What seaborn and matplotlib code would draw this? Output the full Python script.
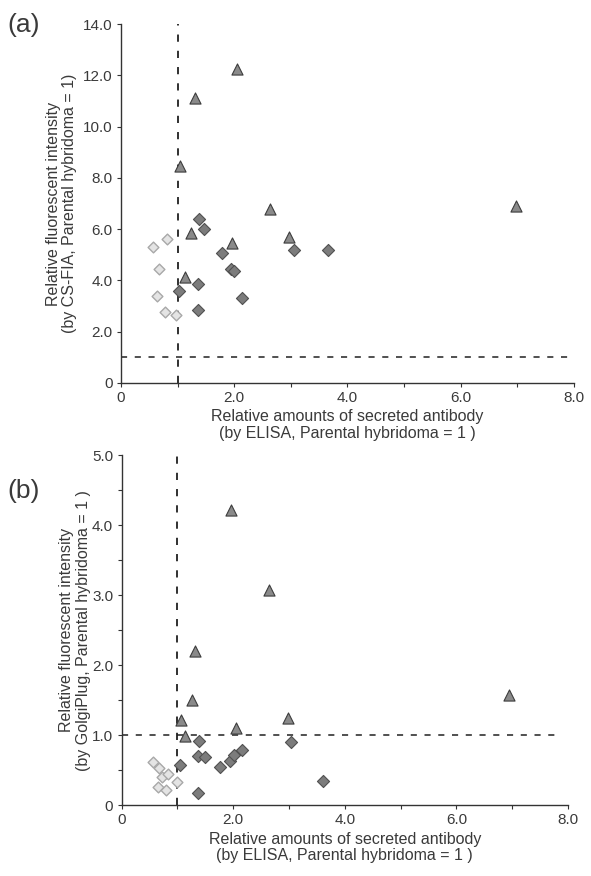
import numpy as np
import pandas as pd
import seaborn as sns
import matplotlib.pyplot as plt
from matplotlib.ticker import MultipleLocator

# panel (a): CS-FIA vs ELISA
a_tri_x = [2.05, 1.31, 1.04, 2.63, 1.24, 1.96, 2.97, 1.13, 6.97]
a_tri_y = [12.25, 11.1, 8.45, 6.8, 5.85, 5.45, 5.7, 4.15, 6.9]
a_dia_x = [1.37, 1.47, 1.78, 1.94, 2.00, 3.06, 3.65, 1.36, 1.02, 2.13, 1.36]
a_dia_y = [6.4, 6.0, 5.05, 4.45, 4.35, 5.2, 5.2, 3.85, 3.6, 3.3, 2.85]
a_lt_x = [0.57, 0.82, 0.67, 0.63, 0.78, 0.97]
a_lt_y = [5.3, 5.6, 4.45, 3.4, 2.75, 2.65]

# panel (b): GolgiPlug vs ELISA
b_tri_x = [1.97, 2.64, 1.32, 1.26, 1.06, 1.14, 2.06, 2.98, 6.94]
b_tri_y = [4.22, 3.07, 2.2, 1.5, 1.22, 0.99, 1.1, 1.24, 1.57]
b_dia_x = [1.39, 1.37, 1.49, 1.04, 1.37, 1.77, 1.95, 2.01, 2.15, 3.03, 3.61]
b_dia_y = [0.92, 0.7, 0.68, 0.57, 0.17, 0.55, 0.63, 0.72, 0.78, 0.9, 0.35]
b_lt_x = [0.57, 0.67, 0.72, 0.84, 0.65, 0.79, 1.0]
b_lt_y = [0.61, 0.53, 0.40, 0.44, 0.26, 0.21, 0.33]

xlab = 'Relative amounts of secreted antibody\n(by ELISA, Parental hybridoma = 1 )'
ylab_a = 'Relative fluorescent intensity\n(by CS-FIA, Parental hybridoma = 1)'
ylab_b = 'Relative fluorescent intensity\n(by GolgiPlug, Parental hybridoma = 1 )'

sns.set_style('ticks')
plt.rcParams['font.family'] = ['Liberation Sans', 'DejaVu Sans']
txt = '#3a3a3a'

fig = plt.figure(figsize=(5.91, 8.76), dpi=100)
ax_a = fig.add_axes([0.2047, 0.5628, 0.7665, 0.4098])
ax_b = fig.add_axes([0.2056, 0.0810, 0.7555, 0.3995])


def draw(ax, tx, ty, dx, dy, lx, ly):
    sns.scatterplot(x=lx, y=ly, ax=ax, marker='D', s=30, color='#e4e4e4',
                    edgecolor='#a8a8a8', linewidth=1.0, zorder=3)
    sns.scatterplot(x=dx, y=dy, ax=ax, marker='D', s=38, color='#7c7c7c',
                    edgecolor='#505050', linewidth=0.8, zorder=3)
    sns.scatterplot(x=tx, y=ty, ax=ax, marker='^', s=64, color='#8a8a8a',
                    edgecolor='#3c3c3c', linewidth=0.8, zorder=3)


draw(ax_a, a_tri_x, a_tri_y, a_dia_x, a_dia_y, a_lt_x, a_lt_y)
draw(ax_b, b_tri_x, b_tri_y, b_dia_x, b_dia_y, b_lt_x, b_lt_y)

for ax, ytop, ystep, yminor, ylab, ypad in [(ax_a, 14.0, 2.0, 2.0, ylab_a, 4),
                                            (ax_b, 5.0, 1.0, 0.5, ylab_b, 1)]:
    ax.set_xlim(0, 8.0)
    ax.set_ylim(0, ytop)
    ax.plot([1.0, 1.0], [0, ytop], ls=(0, (4, 5)), color='#202020', lw=1.3, zorder=2)
    ax.plot([0, 7.9], [1.0, 1.0], ls=(0, (4, 5)), color='#202020', lw=1.1, zorder=2)
    ax.xaxis.set_major_locator(MultipleLocator(2.0))
    ax.xaxis.set_minor_locator(MultipleLocator(1.0))
    ax.yaxis.set_major_locator(MultipleLocator(ystep))
    ax.yaxis.set_minor_locator(MultipleLocator(yminor))
    ax.xaxis.set_major_formatter(lambda v, p: '0' if v == 0 else f'{v:.1f}')
    ax.yaxis.set_major_formatter(lambda v, p: '0' if v == 0 else f'{v:.1f}')
    ax.tick_params(which='both', direction='out', length=3, width=0.8,
                   colors='#333333', labelsize=11, labelcolor=txt)
    ax.tick_params(axis='x', which='both', pad=3)
    ax.tick_params(axis='y', which='both', pad=3)
    for s in ['left', 'bottom']:
        ax.spines[s].set_linewidth(1.0)
        ax.spines[s].set_color('#333333')
    sns.despine(ax=ax)
    ax.set_xlabel(xlab, fontsize=11.5, color=txt, labelpad=3, linespacing=1.1)
    ax.set_ylabel(ylab, fontsize=11.5, color=txt, labelpad=ypad, linespacing=1.1)

fig.text(0.012, 0.972, '(a)', fontsize=19, color=txt, va='center')
fig.text(0.012, 0.440, '(b)', fontsize=19, color=txt, va='center')

fig.savefig('out.png', dpi=100)
